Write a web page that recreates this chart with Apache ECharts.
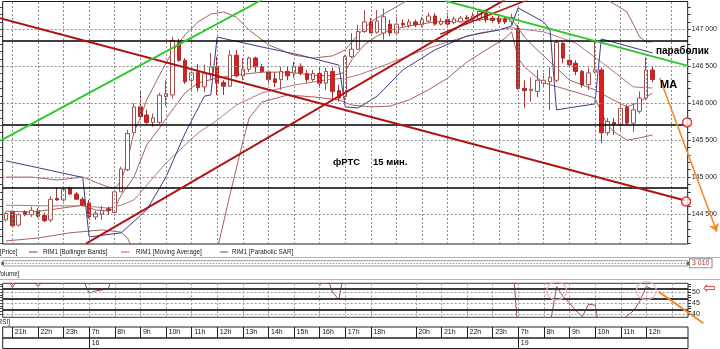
<!DOCTYPE html>
<html>
<head>
<meta charset="utf-8">
<script src="https://cdn.jsdelivr.net/npm/echarts@6.0.0/dist/echarts.min.js"></script>
<style>
html,body{margin:0;padding:0;background:#ffffff;overflow:hidden}
#chart{width:720px;height:349px}
</style>
</head>
<body>
<div id="chart"></div>
<script>
// ---------- categories (15-minute bars) ----------
const barTimes = [
'15 20:45',
'15 21:00','15 21:15','15 21:30','15 21:45','15 22:00','15 22:15','15 22:30','15 22:45','15 23:00','15 23:15','15 23:30','15 23:45',
'16 07:00','16 07:15','16 07:30','16 07:45','16 08:00','16 08:15','16 08:30','16 08:45','16 09:00','16 09:15','16 09:30','16 09:45',
'16 10:00','16 10:15','16 10:30','16 10:45','16 11:00','16 11:15','16 11:30','16 11:45','16 12:00','16 12:15','16 12:30','16 12:45',
'16 13:00','16 13:15','16 13:30','16 13:45','16 14:00','16 14:15','16 14:30','16 14:45','16 15:00','16 15:15','16 15:30','16 15:45',
'16 16:00','16 16:15','16 16:30','16 16:45','16 17:00','16 17:15','16 17:30','16 17:45',
'16 18:00','16 18:15','16 18:30','16 19:00','16 19:15','16 19:30','16 19:45',
'16 20:00','16 20:15','16 20:30','16 20:45','16 21:00','16 21:15','16 21:30','16 21:45','16 22:00','16 22:15','16 22:30','16 22:45',
'16 23:00','16 23:15','16 23:30','16 23:45',
'19 07:00','19 07:15','19 07:30','19 07:45','19 08:00','19 08:15','19 08:30','19 08:45','19 09:00','19 09:15','19 09:30','19 09:45',
'19 10:00','19 10:15','19 10:30','19 10:45','19 11:00','19 11:15','19 11:30','19 11:45','19 12:00','19 12:15',
'19 12:30','19 12:45','19 13:00','19 13:15','19 13:30'
];

// ---------- OHLC ----------
const opens = [144420,144530,144350,144530,144490,144540,144480,144420,144710,144690,144850,144770,144700,144650,144460,144500,144570,144520,144800,145100,
145600,145950,145840,145740,145740,146090,146110,146820,146580,146310,146420,146220,146400,146500,146280,146230,146650,146370,146460,146610,
146490,146420,146330,146320,146430,146410,146500,146400,146320,146400,146270,146430,146170,146090,146630,146730,146970,147100,146960,146950,
147070,146950,147080,147050,147100,147060,147110,147180,147070,147130,147090,147100,147160,147140,147140,147220,147150,147150,147140,147110,
147010,146200,146170,146160,146270,146290,146310,146810,146580,146540,146430,146250,146420,146450,145600,145740,145710,145940,145730,145890,
146070,146450];
const closes = [144510,144340,144490,144490,144550,144470,144410,144700,144690,144830,144770,144700,144620,144460,144510,144550,144550,144800,145110,145590,
145950,145820,145740,145800,146110,146130,146850,146580,146290,146410,146210,146400,146490,146270,146230,146650,146370,146460,146610,146490,
146430,146320,146280,146430,146370,146500,146410,146320,146400,146270,146430,146160,146070,146630,146730,146970,147100,146950,147110,147170,
146950,147070,147060,147100,147060,147130,147180,147070,147110,147070,147140,147150,147140,147180,147240,147130,147120,147100,147100,147160,
146200,146170,146190,146310,146310,146350,146820,146610,146520,146430,146250,146410,146450,145600,145750,145710,145930,145730,145910,146070,
146450,146320];
const lows = [144400,144320,144330,144470,144460,144450,144390,144390,144680,144670,144760,144690,144610,144440,144420,144420,144490,144510,144800,145080,
145580,145770,145720,145680,145720,145960,146060,146560,146260,146180,146160,146150,146310,146110,146110,146220,146350,146310,146420,146420,
146410,146250,146220,146180,146310,146340,146380,146270,146290,146220,146180,146040,146020,146040,146610,146720,146950,146950,146940,146860,
146910,146940,147030,147020,147030,147030,147090,147050,147050,147050,147070,147090,147130,147110,147110,147090,147090,147070,147070,147060,
146180,145940,146020,146080,146220,145910,146280,146540,146490,146380,146210,146180,146400,145460,145560,145570,145640,145710,145610,145860,
146040,146280];
const highs = [144530,144560,144510,144550,144600,144580,144520,144740,144860,144860,144870,144800,144730,144690,144550,144610,144600,144830,145140,145640,
146000,146150,145910,145860,146140,146310,146900,146870,146610,146490,146530,146520,146680,146630,146310,146720,146720,146610,146630,146630,
146530,146450,146420,146490,146490,146560,146540,146450,146450,146480,146480,146480,146250,146650,146950,147060,147260,147150,147260,147280,
147130,147170,147130,147140,147130,147170,147230,147220,147150,147220,147170,147180,147190,147230,147260,147260,147180,147190,147180,147210,
147060,146310,146350,146450,146410,146490,146860,146830,146630,146580,146450,146480,146830,146480,145800,145800,146000,145980,146000,146160,
146620,146490];

// ---------- indicators: [barIndex, price] ----------
const bbUpper = [[0,145000],[4,145000],[8,144960],[12,145000],[14,144930],[16,144865],[17,144850],[18,144945],[19,145230],[20,145610],[21,145800],[22,146045],
[24,146380],[26,146695],[28,146925],[30,147100],[32,147205],[34,147235],[36,147165],[38,146990],[41,146790],[45,146650],[48,146610],[51,146640],
[53,146720],[55,146925],[57,147100],[59,147205],[62,147355],[64,147465],[70,147600],[79,147560],[80,147665],[86,147940],[90,147805],[93,147530],
[94,147395],[96,147290],[97,147235],[98,147070],[99,146895],[100,146830],[101,146830]];
const bbLower = [[0,144135],[5,144175],[10,144245],[15,144285],[18,144255],[19,144175],[20,143985],[24,143740],[28,143675],[32,143810],[33,144015],
[35,144760],[37,145475],[38,145800],[40,146015],[44,146110],[48,146085],[52,146045],[54,145975],[57,145950],[60,145960],[63,146045],[66,146180],
[69,146340],[72,146555],[75,146720],[78,146880],[79,146965],[80,146610],[81,146490],[84,146275],[89,146150],[92,146070],[93,145880],[94,145705],
[95,145610],[97,145500],[99,145530],[101,145570]];
const bbMiddle = [[0,144540],[4,144525],[8,144570],[12,144620],[14,144555],[16,144540],[17,144580],[18,144755],[20,145000],[22,145435],[24,145665],
[26,145910],[28,146140],[30,146275],[33,146340],[36,146380],[40,146420],[44,146420],[48,146380],[51,146370],[53,146420],[54,146585],[56,146790],
[58,146910],[60,146990],[63,147045],[67,147100],[72,147110],[76,147140],[79,147140],[80,147020],[81,146895],[83,146720],[85,146560],[88,146315],
[90,146245],[92,146180],[94,146085],[97,145950],[99,146015],[101,146140]];
const movingAvg = [[0,144620],[6,144610],[12,144610],[16,144580],[18,144620],[20,144690],[25,145190],[30,145595],[33,145770],[36,145975],[40,146140],
[45,146245],[50,146315],[53,146340],[55,146380],[58,146475],[62,146610],[66,146745],[70,146855],[74,146950],[79,147020],[84,146965],[89,146815],
[94,146490],[98,146220],[101,146205]];
const parabolicSar = [[0,145220],[12,144995],[13,144190],[18,144245],[22,144555],[25,145000],[28,145595],[31,146095],[32,146110],[33,146895],[40,146760],
[46,146650],[52,146515],[53,145950],[55,145935],[58,146095],[62,146450],[67,146720],[72,146910],[77,146990],[79,147045],[80,147290],[84,147100],
[85,146990],[86,145910],[92,145990],[93,146870],[101,146680]];
const rsiValues = [58,52,57,60,56,52.5,55.5,64,62,66,63,59,56,49.5,50.5,51,51.5,62,70,78,
82,76,72,73,78,78,84,75,68,69,63,66,68,61,60,68,62,63,66,63,
62,59,58,61,59,62,59,57,59,53,58,50,46.5,63,66,71,74,68,71,73,
68,71,70,72,70,72,74,69,70,68,70,71,70,72,75,69,68,67,67,69,
30,29,30,34,35,36,52.5,48,45,41.5,38.9,44.5,44,28,31,31,37,39.2,41.5,46,
52.6,51.2];
const volumeLast = 3010;

// ---------- drawn annotations: [barIndex, price] ----------
const levelLines = [146840, 145710, 144850];
const trendDown = [[-0.92,147150],[106.2,144680]];
const trendUp = [[12.5,144100],[77.9,147400]];
const trendUp2 = [[67.8,146935],[81.5,147400]];
const greenUp = [[-0.92,145490],[40.0,147400]];
const greenDown = [[68.6,147385],[106.5,146505]];
const orangeArrow = [[102.1,146340],[111.0,144260]];
const levelCircles = [[106.35,145740],[106.2,144670]];
const rsiLevels = [51.4, 46.8, 41.8];
const rsiOrange = [[101.9,50.2],[108.9,35.8]];
const rsiCircles = [[86,50.5],[100,50.7]];

// ---------- ticks ----------
const priceTicks = [144500,145000,145500,146000,146500,147000];
const rsiTicks = [40,45,50];
const rsiMinorTicks = [40,41.25,42.5,43.75,45,46.25,47.5,48.75,50,51.25,52.5,53.75];
const hourLabelIdx = [1,5,9,13,17,21,25,29,33,37,41,45,49,53,57,64,68,72,76,80,84,88,92,96,100];
const hourLabels = ['21h','22h','23h','7h','8h','9h','10h','11h','12h','13h','14h','15h','16h','17h','18h','20h','21h','22h','23h','7h','8h','9h','10h','11h','12h'];
const dayLabelIdx = [13,80];
const dayLabels = ['16','19'];
const mainGridIdx = [1,5,9,13,17,21,25,29,33,37,41,45,49,53,57,61,65,69,73,77,80,84,88,92,96,100,104];
const rsiGridIdx = [1,5,9,13,17,21,25,29,33,37,41,45,49,53,57,64,68,72,76,80,84,88,92,96,100,104];

// ---------- layout ----------
const N = barTimes.length;
const plotLeft = 2.7, plotWidth = 685.3;
const slotW = plotWidth / N;
const vMin = -(plotLeft + slotW / 2) / slotW;
const vMax = vMin + 720 / slotW;
const priceMin = 144094, priceMax = 147376;
const rsiMin = 38.5, rsiMax = 54, rsiH = 34, rsiOvH = 65.7;
const rsiOvMin = rsiMax - (rsiMax - rsiMin) * rsiOvH / rsiH;

const FF = '"Liberation Sans", Arial, sans-serif';
function fmtPrice(v){ const s = String(Math.round(v)); return s.slice(0, s.length - 3) + ' ' + s.slice(-3); }
const minorPriceTicks = [];
for (let v = 144100; v <= 147300; v += 100) minorPriceTicks.push(v);
const hourMap = {}; hourLabelIdx.forEach((i, k) => hourMap[i] = hourLabels[k]);
const dayMap = {}; dayLabelIdx.forEach((i, k) => dayMap[i] = dayLabels[k]);
const candleData = opens.map((o, i) => [o, closes[i], lows[i], highs[i]]);

const catAxis = (gi) => ({type:'category', gridIndex:gi, data:barTimes, boundaryGap:true, show:false});
const valAxis = (gi, min, max) => ({type:'value', gridIndex:gi, min:min, max:max, show:false});
const dashV = (idxs, color) => idxs.map(i => ({xAxis: barTimes[i], lineStyle:{color:color, type:[2,2], width:1}}));
const dashH = (vals, color) => vals.map(v => ({yAxis: v, lineStyle:{color:color, type:[2,2], width:1}}));
const solidV = (idxs) => idxs.map(i => ({xAxis: barTimes[i]}));
const timeAxis = (gi, map, margin) => ({type:'category', gridIndex:gi, data:barTimes, boundaryGap:true, position:'top',
  axisLine:{show:false}, splitLine:{show:false}, axisTick:{show:false},
  axisLabel:{show:true, inside:true, interval:(i) => map[i] !== undefined, formatter:(v, i) => map[i] || '',
    align:'left', verticalAlign:'top', margin:margin, padding:[0,0,0,2.5], fontSize:7, fontFamily:FF, color:'#111'}});

const chart = echarts.init(document.getElementById('chart'), null, {renderer:'canvas'});

const option = {
  animation: false,
  backgroundColor: '#ffffff',
  grid: [
    {left:plotLeft, top:1.5, width:plotWidth, height:242.5, show:true, borderColor:'#1a1a1a', borderWidth:1},
    {left:0, top:1.5, width:720, height:242.5, show:false},
    {left:plotLeft, top:260.7, width:plotWidth, height:5.3, show:true, borderColor:'#9a9a9a', borderWidth:1},
    {left:plotLeft, top:283.3, width:plotWidth, height:rsiH, show:true, borderColor:'#333333', borderWidth:1},
    {left:0, top:283.3, width:720, height:rsiOvH, show:false},
    {left:plotLeft, top:327, width:plotWidth, height:11, show:true, borderColor:'#222222', borderWidth:1},
    {left:plotLeft, top:338, width:plotWidth, height:10.5, show:true, borderColor:'#222222', borderWidth:1}
  ],
  xAxis: [
    catAxis(0),
    {type:'value', gridIndex:1, min:vMin, max:vMax, show:false},
    catAxis(2),
    catAxis(3),
    {type:'value', gridIndex:4, min:vMin, max:vMax, show:false},
    timeAxis(5, hourMap, 2),
    timeAxis(6, dayMap, 1.5)
  ],
  yAxis: [
    {type:'value', gridIndex:0, position:'right', min:priceMin, max:priceMax, axisLine:{show:false}, splitLine:{show:false},
      axisTick:{show:true, customValues:minorPriceTicks, length:3, lineStyle:{color:'#333'}},
      axisLabel:{show:true, customValues:priceTicks, formatter:fmtPrice, fontSize:7, fontFamily:FF, color:'#222', margin:4}},
    {type:'value', gridIndex:0, position:'left', min:priceMin, max:priceMax, axisLine:{show:false}, splitLine:{show:false},
      axisTick:{show:true, customValues:minorPriceTicks, length:2.5, lineStyle:{color:'#333'}}, axisLabel:{show:false}},
    valAxis(1, priceMin, priceMax),
    valAxis(2, 0, 6020),
    {type:'value', gridIndex:3, position:'right', min:rsiMin, max:rsiMax, axisLine:{show:false}, splitLine:{show:false},
      axisTick:{show:true, customValues:rsiMinorTicks, length:3, lineStyle:{color:'#333'}},
      axisLabel:{show:true, customValues:rsiTicks, fontSize:7, fontFamily:FF, color:'#222', margin:4}},
    {type:'value', gridIndex:3, position:'left', min:rsiMin, max:rsiMax, axisLine:{show:false}, splitLine:{show:false},
      axisTick:{show:true, customValues:rsiMinorTicks, length:2.5, lineStyle:{color:'#333'}}, axisLabel:{show:false}},
    valAxis(4, rsiOvMin, rsiMax),
    valAxis(5, 0, 1),
    valAxis(6, 0, 1)
  ],
  series: [
    // background grid of the price pane
    {type:'line', name:'grid', xAxisIndex:0, yAxisIndex:0, data:[], z:1, silent:true,
      markLine:{silent:true, symbol:['none','none'], label:{show:false}, animation:false,
        data: dashV(mainGridIdx, '#8e8e8e').concat(dashH(priceTicks, '#8e8e8e'))}},
    {type:'line', name:'RIM1 [Bollinger Bands]', xAxisIndex:0, yAxisIndex:0, data:bbUpper, symbol:'none', z:2, silent:true,
      lineStyle:{color:'#a8605c', width:1}},
    {type:'line', name:'RIM1 [Bollinger Bands] lower', xAxisIndex:0, yAxisIndex:0, data:bbLower, symbol:'none', z:2, silent:true,
      lineStyle:{color:'#a8605c', width:1}},
    {type:'line', name:'RIM1 [Bollinger Bands] middle', xAxisIndex:0, yAxisIndex:0, data:bbMiddle, symbol:'none', z:2, silent:true,
      lineStyle:{color:'#a8605c', width:1}},
    {type:'line', name:'RIM1 [Moving Average]', xAxisIndex:0, yAxisIndex:0, data:movingAvg, symbol:'none', z:2, silent:true,
      lineStyle:{color:'#b87878', width:1}},
    {type:'line', name:'RIM1 [Parabolic SAR]', xAxisIndex:0, yAxisIndex:0, data:parabolicSar, symbol:'none', z:2, silent:true,
      lineStyle:{color:'#3c3c88', width:1}},
    {type:'candlestick', name:'RIM1 [Price]', xAxisIndex:0, yAxisIndex:0, data:candleData, barWidth:4, z:3, silent:true,
      itemStyle:{color:'#ffffff', color0:'#e41b1b', borderColor:'#a0504c', borderColor0:'#a3302c', borderWidth:1},
      markLine:{silent:true, symbol:['none','none'], label:{show:false}, animation:false,
        data: levelLines.map(v => ({yAxis:v, lineStyle:{color:'#000', width:1.5, type:'solid'}})).concat([
          {yAxis: closes[closes.length - 1], lineStyle:{opacity:0},
            label:{show:true, position:'end', distance:1, formatter: fmtPrice(closes[closes.length - 1]),
              color:'#b03030', fontSize:7, fontFamily:FF, backgroundColor:'#ffffff', borderColor:'#8a8a8a', borderWidth:1, padding:[1,2,0,2]}}
        ])}},
    // hand-drawn trend lines (overlay pane, x in bar units)
    {type:'line', name:'trendDown', xAxisIndex:1, yAxisIndex:2, data:trendDown, symbol:'none', z:5, silent:true, lineStyle:{color:'#b01212', width:2}},
    {type:'line', name:'trendUp', xAxisIndex:1, yAxisIndex:2, data:trendUp, symbol:'none', z:5, silent:true, lineStyle:{color:'#b01212', width:2}},
    {type:'line', name:'trendUp2', xAxisIndex:1, yAxisIndex:2, data:trendUp2, symbol:'none', z:5, silent:true, lineStyle:{color:'#b01212', width:1.5}},
    {type:'line', name:'greenUp', xAxisIndex:1, yAxisIndex:2, data:greenUp, symbol:'none', z:5, silent:true, lineStyle:{color:'#2ec82e', width:2}},
    {type:'line', name:'greenDown', xAxisIndex:1, yAxisIndex:2, data:greenDown, symbol:'none', z:5, silent:true, lineStyle:{color:'#2ec82e', width:2}},
    {type:'line', name:'arrow', xAxisIndex:1, yAxisIndex:2, data:[], z:6, silent:true,
      markLine:{silent:true, symbol:['none','arrow'], symbolSize:8, label:{show:false}, animation:false,
        lineStyle:{color:'#f08a2a', width:1.6, type:'solid'},
        data:[[{coord:orangeArrow[0]}, {coord:orangeArrow[1]}]]}},
    {type:'scatter', name:'circles', xAxisIndex:1, yAxisIndex:2, data:levelCircles, symbol:'circle', symbolSize:9, z:7, silent:true, clip:false,
      itemStyle:{color:'#ffffff', borderColor:'#e01010', borderWidth:1.5}},
    // volume pane
    {type:'line', name:'RIM1 [Volume]', xAxisIndex:2, yAxisIndex:3, data:[], silent:true,
      markLine:{silent:true, symbol:['rect','rect'], symbolSize:3, animation:false,
        lineStyle:{color:'#666', type:[1,2], width:1},
        label:{show:true, position:'end', distance:2, formatter: fmtPrice(volumeLast), color:'#a03030', fontSize:7, fontFamily:FF,
          backgroundColor:'#fff', borderColor:'#8a8a8a', borderWidth:1, padding:[1,2,0,2]},
        data:[{yAxis:volumeLast}]}},
    // RSI pane
    {type:'line', name:'RIM1 [RSI]', xAxisIndex:3, yAxisIndex:4, data:rsiValues, symbol:'none', z:3, silent:true, clip:true,
      lineStyle:{color:'#a04848', width:1},
      markLine:{silent:true, symbol:['none','none'], label:{show:false}, animation:false,
        data: dashV(rsiGridIdx, '#9a9a9a').concat(dashH(rsiTicks, '#9a9a9a'))
          .concat(rsiLevels.map(v => ({yAxis:v, lineStyle:{color:'#3a3a3a', width:2, type:'solid'}})))}},
    {type:'scatter', name:'rsiCircles', xAxisIndex:3, yAxisIndex:4, data:rsiCircles, symbol:'circle', symbolSize:[20,18], z:5, silent:true, clip:false,
      itemStyle:{color:'rgba(0,0,0,0)', borderColor:'#f3b4cb', borderWidth:1.5}},
    {type:'line', name:'rsiOrange', xAxisIndex:4, yAxisIndex:6, data:rsiOrange, symbol:'none', z:6, silent:true,
      lineStyle:{color:'#f08a2a', width:2}},
    // time scale separators
    {type:'line', name:'hourSep', xAxisIndex:5, yAxisIndex:7, data:[], silent:true,
      markLine:{silent:true, symbol:['none','none'], label:{show:false}, animation:false,
        lineStyle:{color:'#222', width:1, type:'solid'}, data: solidV(hourLabelIdx)}},
    {type:'line', name:'daySep', xAxisIndex:6, yAxisIndex:8, data:[], silent:true,
      markLine:{silent:true, symbol:['none','none'], label:{show:false}, animation:false,
        lineStyle:{color:'#222', width:1, type:'solid'}, data: solidV(dayLabelIdx)}}
  ],
  graphic: [
    {type:'line', silent:true, shape:{x1:0, y1:257.5, x2:720, y2:257.5}, style:{stroke:'#b4b4b4', lineWidth:1}},
    {type:'line', silent:true, shape:{x1:0, y1:279.5, x2:720, y2:279.5}, style:{stroke:'#b4b4b4', lineWidth:1}},
    {type:'text', silent:true, x:17.5, y:252, scaleX:0.9, style:{text:'RIM1 [Price]', font:'7px ' + FF, fill:'#222', align:'right', verticalAlign:'middle'}},
    {type:'line', silent:true, shape:{x1:29, y1:252, x2:37.5, y2:252}, style:{stroke:'#c89a98', lineWidth:2}},
    {type:'text', silent:true, x:43, y:252, scaleX:0.9, style:{text:'RIM1 [Bollinger Bands]', font:'7px ' + FF, fill:'#222', align:'left', verticalAlign:'middle'}},
    {type:'line', silent:true, shape:{x1:121, y1:252, x2:129.5, y2:252}, style:{stroke:'#dcaaaa', lineWidth:2}},
    {type:'text', silent:true, x:136, y:252, scaleX:0.9, style:{text:'RIM1 [Moving Average]', font:'7px ' + FF, fill:'#222', align:'left', verticalAlign:'middle'}},
    {type:'line', silent:true, shape:{x1:220, y1:252, x2:228, y2:252}, style:{stroke:'#a8a8c4', lineWidth:2}},
    {type:'text', silent:true, x:232, y:252, scaleX:0.9, style:{text:'RIM1 [Parabolic SAR]', font:'7px ' + FF, fill:'#222', align:'left', verticalAlign:'middle'}},
    {type:'text', silent:true, x:19.5, y:274, scaleX:0.9, style:{text:'RIM1 [Volume]', font:'7px ' + FF, fill:'#222', align:'right', verticalAlign:'middle'}},
    {type:'text', silent:true, x:10, y:322, scaleX:0.9, style:{text:'RIM1 [RSI]', font:'7px ' + FF, fill:'#222', align:'right', verticalAlign:'middle'}},
    {type:'text', silent:true, x:333, y:162, z:20, style:{text:'фРТС', font:'bold 9.5px ' + FF, fill:'#000', align:'left', verticalAlign:'middle'}},
    {type:'text', silent:true, x:373, y:162, z:20, style:{text:'15 мин.', font:'bold 9.5px ' + FF, fill:'#000', align:'left', verticalAlign:'middle'}},
    {type:'text', silent:true, x:656, y:51.5, z:20, style:{text:'параболик', font:'bold 10px ' + FF, fill:'#000', align:'left', verticalAlign:'middle'}},
    {type:'text', silent:true, x:660, y:85, z:20, style:{text:'MA', font:'bold 11px ' + FF, fill:'#000', align:'left', verticalAlign:'middle'}},
    {type:'text', silent:true, x:703, y:289.5, z:20, style:{text:'⇦', font:'15px "DejaVu Sans", sans-serif', fill:'#e02020', align:'left', verticalAlign:'middle'}}
  ]
};
chart.setOption(option);
</script>
</body>
</html>
